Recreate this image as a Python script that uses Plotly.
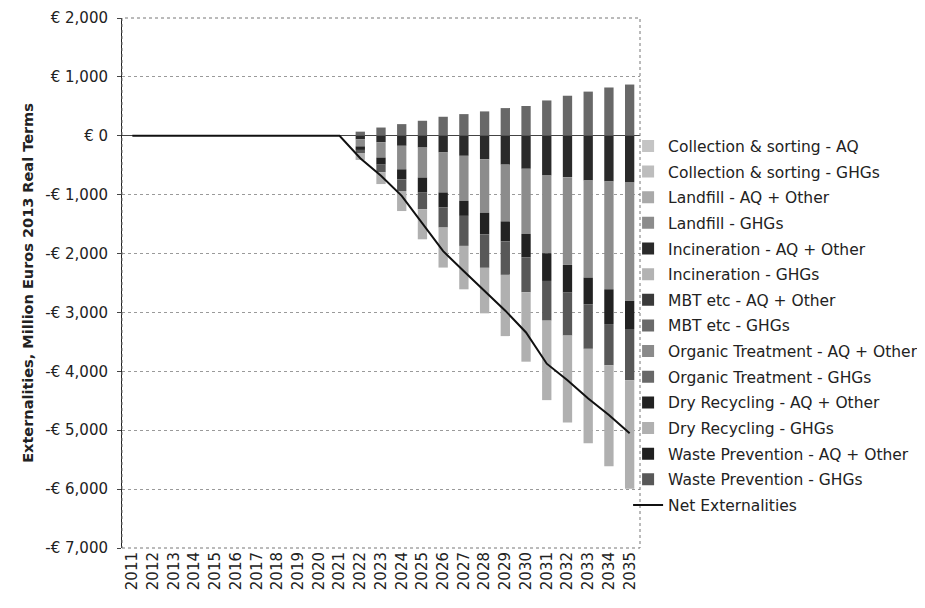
import plotly.graph_objects as go

years = [str(y) for y in range(2011, 2036)]
pre = [0] * 11  # 2011-2021

series_names = [
    "Collection & sorting - AQ",
    "Collection & sorting - GHGs",
    "Landfill - AQ + Other",
    "Landfill - GHGs",
    "Incineration - AQ + Other",
    "Incineration - GHGs",
    "MBT etc - AQ + Other",
    "MBT etc - GHGs",
    "Organic Treatment - AQ + Other",
    "Organic Treatment - GHGs",
    "Dry Recycling - AQ + Other",
    "Dry Recycling - GHGs",
    "Waste Prevention - AQ + Other",
    "Waste Prevention - GHGs",
]

collection_aq = pre + [0] * 14
collection_ghg = pre + [0] * 14
landfill_aq = pre + [0] * 14
landfill_ghg = pre + [-120, -260, -400, -510, -680, -765, -907, -964, -1106, -1320, -1489, -1650, -1831, -2016]
incineration_aq = pre + [-60, -110, -170, -200, -283, -340, -400, -490, -560, -675, -703, -760, -776, -787]
incineration_ghg = pre + [0] * 14
mbt_aq = pre + [0] * 14
mbt_ghg = pre + [0] * 14
organic_aq = pre + [0] * 14
organic_ghg = pre + [70, 140, 198, 255, 323, 368, 414, 470, 506, 600, 680, 750, 820, 870]
dry_aq = pre + [-60, -120, -170, -255, -255, -255, -368, -340, -397, -470, -471, -450, -590, -478]
dry_ghg = pre + [-110, -200, -340, -510, -680, -737, -773, -1040, -1180, -1350, -1477, -1602, -1714, -1843]
prevention_aq = pre + [0] * 14
prevention_ghg = pre + [-60, -130, -198, -283, -340, -510, -567, -568, -593, -674, -730, -758, -702, -871]

net_externalities = pre + [-380, -680, -1020, -1480, -1960, -2300, -2635, -2970, -3340, -3870, -4150, -4460, -4740, -5050]

ytick_vals = [2000, 1000, 0, -1000, -2000, -3000, -4000, -5000, -6000, -7000]
ytick_text = ["€ 2,000", "€ 1,000", "€ 0", "-€ 1,000", "-€ 2,000", "-€ 3,000",
              "-€ 4,000", "-€ 5,000", "-€ 6,000", "-€ 7,000"]

series_values = {
    "Collection & sorting - AQ": collection_aq,
    "Collection & sorting - GHGs": collection_ghg,
    "Landfill - AQ + Other": landfill_aq,
    "Landfill - GHGs": landfill_ghg,
    "Incineration - AQ + Other": incineration_aq,
    "Incineration - GHGs": incineration_ghg,
    "MBT etc - AQ + Other": mbt_aq,
    "MBT etc - GHGs": mbt_ghg,
    "Organic Treatment - AQ + Other": organic_aq,
    "Organic Treatment - GHGs": organic_ghg,
    "Dry Recycling - AQ + Other": dry_aq,
    "Dry Recycling - GHGs": dry_ghg,
    "Waste Prevention - AQ + Other": prevention_aq,
    "Waste Prevention - GHGs": prevention_ghg,
}

colors = {
    "Collection & sorting - AQ": "#c4c4c4",
    "Collection & sorting - GHGs": "#bdbdbd",
    "Landfill - AQ + Other": "#a9a9a9",
    "Landfill - GHGs": "#8c8c8c",
    "Incineration - AQ + Other": "#2a2a2a",
    "Incineration - GHGs": "#b3b3b3",
    "MBT etc - AQ + Other": "#3a3a3a",
    "MBT etc - GHGs": "#6a6a6a",
    "Organic Treatment - AQ + Other": "#8a8a8a",
    "Organic Treatment - GHGs": "#686868",
    "Dry Recycling - AQ + Other": "#222222",
    "Dry Recycling - GHGs": "#b0b0b0",
    "Waste Prevention - AQ + Other": "#202020",
    "Waste Prevention - GHGs": "#585858",
}

# stacking order (from zero outward)
stack_order = [
    "Organic Treatment - GHGs",
    "Incineration - AQ + Other",
    "Landfill - GHGs",
    "Dry Recycling - AQ + Other",
    "Waste Prevention - GHGs",
    "Dry Recycling - GHGs",
]
for n in series_names:
    if n not in stack_order:
        stack_order.append(n)

FONT = "DejaVu Sans"
TXT = "#222222"
fig = go.Figure()
for name in stack_order:
    fig.add_trace(go.Bar(
        x=years, y=series_values[name], name=name,
        marker=dict(color=colors[name], line=dict(width=0)),
        legendrank=series_names.index(name) + 1,
        legendgroup=name,
    ))

fig.add_trace(go.Scatter(
    x=years, y=net_externalities, name="Net Externalities", mode="lines",
    line=dict(color="#111111", width=2), legendrank=100, legendgroup="net",
))

fig.update_layout(
    width=917, height=600,
    barmode="relative", bargap=0.55,
    plot_bgcolor="white", paper_bgcolor="white",
    margin=dict(l=114, r=285, t=10, b=60, autoexpand=False),
    font=dict(family=FONT, size=15, color=TXT),
    legend=dict(
        x=0.977, y=0.79, xanchor="left", yanchor="top",
        font=dict(family=FONT, size=15.5, color=TXT),
        traceorder="grouped", tracegroupgap=2.5,
        bgcolor="rgba(0,0,0,0)",
    ),
    showlegend=True,
)
fig.update_xaxes(
    type="category", tickangle=-90, showgrid=False, automargin=False,
    tickfont=dict(family=FONT, size=15, color=TXT),
    showline=False, ticks="",
)
fig.update_yaxes(
    range=[-7000, 2000], tickvals=ytick_vals, ticktext=ytick_text, automargin=False,
    tickfont=dict(family=FONT, size=15, color=TXT), ticklabeloverflow="allow",
    showgrid=True, gridcolor="#9a9a9a", griddash="dot", gridwidth=1,
    zeroline=True, zerolinecolor="#444444", zerolinewidth=1,
    showline=True, linecolor="#222222", linewidth=1,
    ticks="outside", ticklen=4, tickcolor="#444444", ticklabelstandoff=6,
    title=dict(text="<b>Externalities, Million Euros 2013 Real Terms</b>",
               font=dict(family=FONT, size=14.5, color=TXT), standoff=8),
)
fig.add_shape(type="rect", xref="paper", yref="paper", x0=0, x1=1, y0=0, y1=1,
              line=dict(color="#777777", width=1, dash="dot"), layer="above")

fig.write_html("out.html")
